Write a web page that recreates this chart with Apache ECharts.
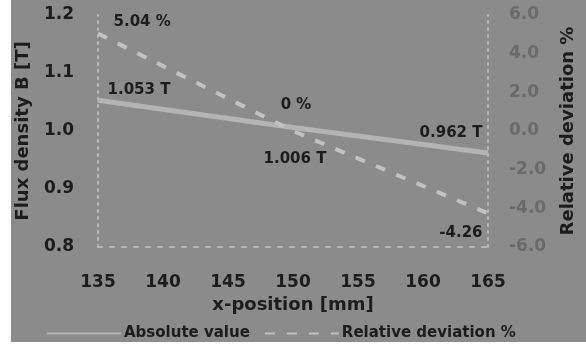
<!DOCTYPE html>
<html>
<head>
<meta charset="utf-8">
<script src="https://cdn.jsdelivr.net/npm/echarts@6/dist/echarts.min.js"></script>
<style>
  html, body { margin: 0; padding: 0; background: #ffffff; }
  #chart { position: absolute; left: 11px; top: 0; width: 575px; height: 342px; background: #8b8b8b; }
</style>
</head>
<body>
<div id="chart"></div>
<script>
// x positions (mm)
const positions = [135, 150, 165]
// flux density B [T]
const absoluteValues = [1.053, 1.006, 0.962]
const absoluteLabels = ['1.053 T', '1.006 T', '0.962 T']
// relative deviation %
const relativeValues = [5.04, 0, -4.26]
const relativeLabels = ['5.04 %', '0 %', '-4.26']

const dark = '#1c1c1c'
const labelFont = { fontFamily: 'DejaVu Sans', fontWeight: 'bold', fontSize: 15, color: dark }
const axisFont = { fontFamily: 'DejaVu Sans', fontWeight: 'bold', fontSize: 17, color: dark }
const nameFont = { fontFamily: 'DejaVu Sans', fontWeight: 'bold', fontSize: 18, color: dark }

// per-point label placement
const absLabelPos = [
  { position: 'right', distance: 9, offset: [0, -10] },
  { position: 'bottom', distance: 24, offset: [2, 0] },
  { position: 'left', distance: 5, offset: [0, -20] },
]
const relLabelPos = [
  { position: 'right', distance: 15, offset: [0, -11] },
  { position: 'top', distance: 18, offset: [3, 0] },
  { position: 'left', distance: 5, offset: [0, 20] },
]

const chart = echarts.init(document.getElementById('chart'))

const option = {
  backgroundColor: '#8b8b8b',
  animation: false,
  textStyle: { fontFamily: 'DejaVu Sans' },
  grid: { left: 87, right: 98, top: 15, bottom: 95, containLabel: false, outerBoundsMode: 'none' },
  legend: {
    bottom: -4,
    left: 30,
    itemWidth: 74,
    itemHeight: 8,
    itemGap: 14,
    textStyle: { fontFamily: 'DejaVu Sans', fontWeight: 'bold', fontSize: 15, color: dark, padding: [0, 0, 0, -2] },
    data: ['Absolute value', 'Relative deviation %'],
  },
  xAxis: {
    type: 'value',
    min: 135,
    max: 165,
    interval: 5,
    name: 'x-position [mm]',
    nameLocation: 'middle',
    nameGap: 49,
    nameTextStyle: nameFont,
    axisLine: { onZero: false, lineStyle: { color: '#b8b8b8', width: 2, type: [4, 8] } },
    axisTick: { show: false },
    splitLine: { show: false },
    axisLabel: Object.assign({ margin: 27 }, axisFont),
  },
  yAxis: [
    {
      type: 'value',
      min: 0.8,
      max: 1.2,
      interval: 0.1,
      name: 'Flux density B [T]',
      nameLocation: 'middle',
      nameRotate: 90,
      nameGap: 66,
      nameTextStyle: nameFont,
      axisLine: { show: true, lineStyle: { color: '#b8b8b8', width: 2, type: [2, 5] } },
      axisTick: { show: false },
      splitLine: { show: false },
      axisLabel: Object.assign({ margin: 24, formatter: v => v.toFixed(1) }, axisFont),
    },
    {
      type: 'value',
      min: -6,
      max: 6,
      interval: 2,
      position: 'right',
      name: 'Relative deviation %',
      nameLocation: 'middle',
      nameRotate: 90,
      nameGap: 71,
      nameTextStyle: nameFont,
      axisLine: { show: true, lineStyle: { color: '#b8b8b8', width: 2, type: [2, 5] } },
      axisTick: { show: false },
      splitLine: { show: false },
      axisLabel: Object.assign({ margin: 21, formatter: v => v.toFixed(1) }, axisFont, { color: '#6a6a6a' }),
    },
  ],
  series: [
    {
      name: 'Absolute value',
      type: 'line',
      yAxisIndex: 0,
      symbol: 'circle',
      symbolSize: 1,
      itemStyle: { color: 'rgba(0,0,0,0)' },
      lineStyle: { color: '#b4b4b4', width: 5 },
      data: positions.map((x, i) => ({
        value: [x, absoluteValues[i]],
        label: Object.assign({ show: true, formatter: absoluteLabels[i] }, labelFont, absLabelPos[i]),
      })),
    },
    {
      name: 'Relative deviation %',
      type: 'line',
      yAxisIndex: 1,
      symbol: 'circle',
      symbolSize: 1,
      itemStyle: { color: 'rgba(0,0,0,0)' },
      lineStyle: { color: '#c2c2c2', width: 4, type: [10, 12] },
      data: positions.map((x, i) => ({
        value: [x, relativeValues[i]],
        label: Object.assign({ show: true, formatter: relativeLabels[i] }, labelFont, relLabelPos[i]),
      })),
    },
  ],
}

chart.setOption(option)
window.addEventListener('resize', () => chart.resize())
</script>
</body>
</html>
